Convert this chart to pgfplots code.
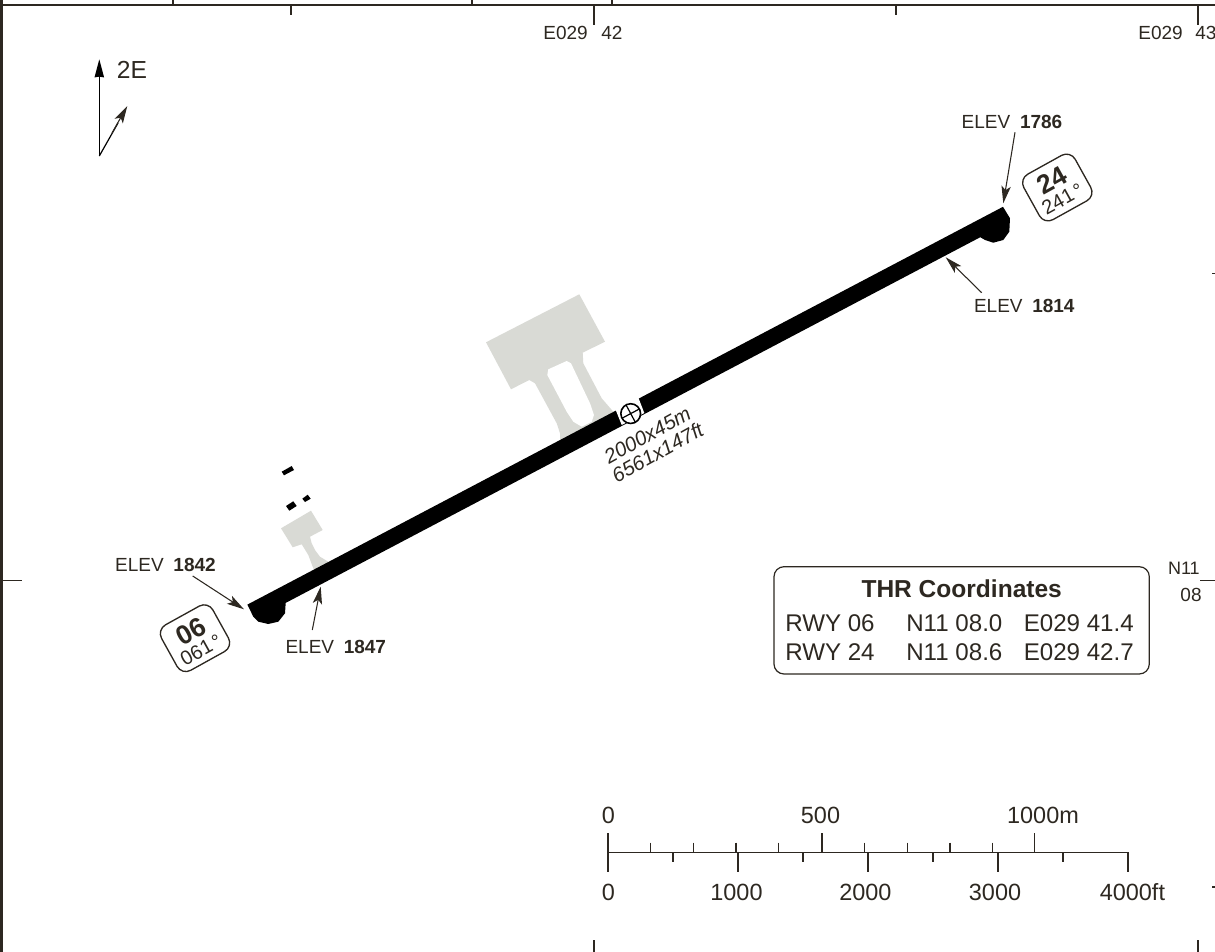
\documentclass[border=0pt]{standalone}
\usepackage{fontspec}
\setmainfont{Liberation Sans}
\usepackage{pgfplots}
\pgfplotsset{compat=1.18}
\usetikzlibrary{arrows.meta}

\definecolor{ink}{RGB}{45,40,33}
\definecolor{apron}{RGB}{217,218,213}

% sizes are given in reference pixels (1px = 0.75pt)
\newcommand{\fsa}{\fontsize{14.25pt}{16pt}\selectfont}% ELEV labels, grid labels
\newcommand{\fsb}{\fontsize{17.6pt}{20pt}\selectfont}% scale bar
\newcommand{\fsc}{\fontsize{18.1pt}{20pt}\selectfont}% thr table

\tikzset{
  lbl/.style={inner sep=0pt,text=ink,font=\fsa},
  rwybox/.style={draw=ink,line width=1pt,rounded corners=7.5pt,rotate=29,
    minimum width=44pt,minimum height=39pt,inner sep=0pt},
  callout/.style={draw=ink,line width=0.8pt,
    -{Stealth[length=13pt,width=7pt,inset=3pt]}},
}

\begin{document}
\begin{tikzpicture}
\begin{axis}[
  scale only axis,
  width=911.25pt,height=714pt,
  xmin=0,xmax=1215,ymin=0,ymax=952,
  y dir=reverse,
  hide axis,
  unbounded coords=jump,
]
% frame
\addplot[draw=ink,line width=1.6pt,forget plot] coordinates {(0,5) (1215,5)};
\addplot[draw=ink,line width=2.4pt,forget plot] coordinates {(1.5,0) (1.5,952)};
% grid ticks
\addplot[draw=ink,line width=0.8pt,forget plot] coordinates {
  (173,0) (173,5) (nan,nan) (472,0) (472,5) (nan,nan) (612,0) (612,5) (nan,nan)
  (291,5) (291,15) (nan,nan) (594,5) (594,25) (nan,nan) (896,5) (896,15) (nan,nan)
  (1198,5) (1198,25) (nan,nan)
  (3,580.5) (22,580.5) (nan,nan) (1212,273.5) (1215,273.5) (nan,nan)
  (1200,580.5) (1215,580.5) (nan,nan) (1212,887) (1215,887) (nan,nan)
  (594,940) (594,952) (nan,nan) (1198,940) (1198,952)
};

% aprons and taxiways
\addplot[fill=apron,draw=none,forget plot] coordinates {
  (486,342.3) (579.3,294.3) (605,341.7) (582.7,352.7) (583.3,363.3)
  (601.7,398.3) (613.3,411.7) (620,425) (560,450) (560,433.3) (556.7,423.3)
  (535,383.3) (529.3,380) (511,389.3)
} -- cycle;
\addplot[fill=white,draw=none,forget plot] coordinates {
  (548.3,369.3) (566.7,361) (571,363.3) (590,403.3) (594,415) (591.7,421.7)
  (581.7,426.7) (573.3,421.7) (566.7,411.7) (547.3,375)
} -- cycle;
\addplot[fill=apron,draw=none,forget plot] coordinates {
  (281,528.3) (311,510.7) (322.7,530) (310,536.7) (311.7,543.3) (315,550)
  (320,556.7) (328.3,561.7) (320,580) (313.3,568.3) (308.3,555) (301.7,544.3)
  (292.7,547.3)
} -- cycle;

% runway with the blast pads at both ends
\addplot[fill=black,draw=none,forget plot] coordinates {
  (247.4,604.6) (1003,206.8) (1010,218.3) (1009.3,231.7) (1003.3,240)
  (993.3,242.7) (985,240) (980.3,237.2) (285.7,602.9) (285,613.3) (278.3,621.7)
  (268.3,624) (258.3,621.7) (253.3,616.7)
} -- cycle;
% gap for the reference point
\addplot[fill=white,draw=none,forget plot] coordinates {
  (615.7,410) (638.3,397.5) (644.3,413) (621.7,425)
} -- cycle;

% reference point
\draw[black,line width=1.2pt,fill=white] (axis cs:630.7,413.6) circle[radius=7.4pt];
\addplot[draw=black,line width=0.9pt,forget plot] coordinates {
  (621.9,418.3) (639.5,408.9) (nan,nan) (626,404.8) (635.4,422.4)
};

% small black marks
\addplot[fill=black,draw=none,forget plot] coordinates {(281.7,471.7) (291.7,466) (294,470) (284,475.3)} -- cycle;
\addplot[fill=black,draw=none,forget plot] coordinates {(286,506) (293.3,501.3) (296.7,506) (289.3,510.7)} -- cycle;
\addplot[fill=black,draw=none,forget plot] coordinates {(302.3,498.7) (307.7,494.7) (310.7,498.7) (305,502)} -- cycle;

% elevation callouts
\addplot[callout,forget plot] coordinates {(192.7,576) (244,609.3)};
\addplot[callout,forget plot] coordinates {(312.3,630) (320.7,586.7)};
\addplot[callout,forget plot] coordinates {(1015,132.3) (1003.3,203.3)};
\addplot[callout,forget plot] coordinates {(981.7,292.7) (945.7,257.3)};
\node[lbl] at (axis cs:165.5,565) {ELEV\hspace{3.3pt} \textbf{1842}};
\node[lbl] at (axis cs:335.8,646.7) {ELEV\hspace{3.3pt} \textbf{1847}};
\node[lbl] at (axis cs:1012,121.7) {ELEV\hspace{3.3pt} \textbf{1786}};
\node[lbl] at (axis cs:1024.3,305.7) {ELEV\hspace{3.3pt} \textbf{1814}};

% magnetic variation
\addplot[draw=black,line width=0.9pt,-{Stealth[length=13.5pt,width=7pt,inset=0.5pt]},forget plot]
  coordinates {(99.3,156) (99.3,59.3)};
\addplot[draw=black,line width=0.9pt,forget plot] coordinates {(99.3,156) (118,123)};
\addplot[callout,forget plot] coordinates {(112,133) (127.3,106)};
\node[lbl,font=\fontsize{18.5pt}{20pt}\selectfont] at (axis cs:132,70) {2E};

% runway number boxes
\node[rwybox] at (axis cs:195,638.2) {};
\node[lbl,rotate=29,font=\fontsize{20pt}{22pt}\selectfont\bfseries] at (axis cs:190.7,631) {06};
\node[lbl,rotate=29,font=\fontsize{15pt}{17pt}\selectfont] at (axis cs:201,650) {061\hspace{2pt}°};
\node[rwybox] at (axis cs:1057.3,187.5) {};
\node[lbl,rotate=29,font=\fontsize{20pt}{22pt}\selectfont\bfseries] at (axis cs:1051.7,180) {24};
\node[lbl,rotate=29,font=\fontsize{15pt}{17pt}\selectfont] at (axis cs:1062.5,199) {241\hspace{2pt}°};

% runway size
\node[lbl,rotate=29,font=\fontsize{15.3pt}{17pt}\selectfont\itshape] at (axis cs:647.5,435) {2000x45m};
\node[lbl,rotate=29,font=\fontsize{15.3pt}{17pt}\selectfont\itshape] at (axis cs:657.5,452.5) {6561x147ft};

% grid labels
\node[lbl,anchor=east] at (axis cs:588,33) {E029};
\node[lbl,anchor=west] at (axis cs:601,33) {42};
\node[lbl,anchor=east] at (axis cs:1183,33) {E029};
\node[lbl,anchor=west] at (axis cs:1195,33) {43};
\node[lbl,anchor=east,font=\fontsize{13.5pt}{15pt}\selectfont] at (axis cs:1200,568) {N11};
\node[lbl] at (axis cs:1191,595) {08};

% threshold table
\draw[draw=ink,line width=0.9pt,rounded corners=7.5pt]
  (axis cs:774,566.7) rectangle (axis cs:1149.3,674);
\node[lbl,font=\fontsize{18.4pt}{20pt}\selectfont\bfseries] at (axis cs:961.7,588.3) {THR Coordinates};
\node[lbl,font=\fsc,anchor=west] at (axis cs:785,622.7) {RWY 06};
\node[lbl,font=\fsc,anchor=west] at (axis cs:906,622.7) {N11 08.0};
\node[lbl,font=\fsc,anchor=west] at (axis cs:1023.5,622.7) {E029 41.4};
\node[lbl,font=\fsc,anchor=west] at (axis cs:785,651.7) {RWY 24};
\node[lbl,font=\fsc,anchor=west] at (axis cs:906,651.7) {N11 08.6};
\node[lbl,font=\fsc,anchor=west] at (axis cs:1023.5,651.7) {E029 42.7};

% scale bar
\addplot[draw=ink,line width=1pt,forget plot] coordinates {
  (608,852.3) (1128,852.3) (nan,nan)
  (608,833.3) (608,871.7) (nan,nan)
  (822,833.3) (822,852.3) (nan,nan) (1034.8,833.3) (1034.8,852.3) (nan,nan)
  (650.7,842.7) (650.7,852.3) (nan,nan) (693.3,842.7) (693.3,852.3) (nan,nan)
  (736,842.7) (736,852.3) (nan,nan) (778.7,842.7) (778.7,852.3) (nan,nan)
  (864.7,842.7) (864.7,852.3) (nan,nan) (907.3,842.7) (907.3,852.3) (nan,nan)
  (950,842.7) (950,852.3) (nan,nan) (992.7,842.7) (992.7,852.3) (nan,nan)
  (738,852.3) (738,871.7) (nan,nan) (868,852.3) (868,871.7) (nan,nan)
  (998,852.3) (998,871.7) (nan,nan) (1128,852.3) (1128,871.7) (nan,nan)
  (673,852.3) (673,861.7) (nan,nan) (803,852.3) (803,861.7) (nan,nan)
  (933,852.3) (933,861.7) (nan,nan) (1063,852.3) (1063,861.7)
};
\node[lbl,font=\fsb] at (axis cs:608.5,815) {0};
\node[lbl,font=\fsb] at (axis cs:820.5,815) {500};
\node[lbl,font=\fsb] at (axis cs:1043,815) {1000m};
\node[lbl,font=\fsb] at (axis cs:608.5,892.5) {0};
\node[lbl,font=\fsb] at (axis cs:736.5,892.5) {1000};
\node[lbl,font=\fsb] at (axis cs:865.4,892.5) {2000};
\node[lbl,font=\fsb] at (axis cs:995,892.5) {3000};
\node[lbl,font=\fsb] at (axis cs:1132.4,892.5) {4000ft};
\end{axis}
\end{tikzpicture}
\end{document}
